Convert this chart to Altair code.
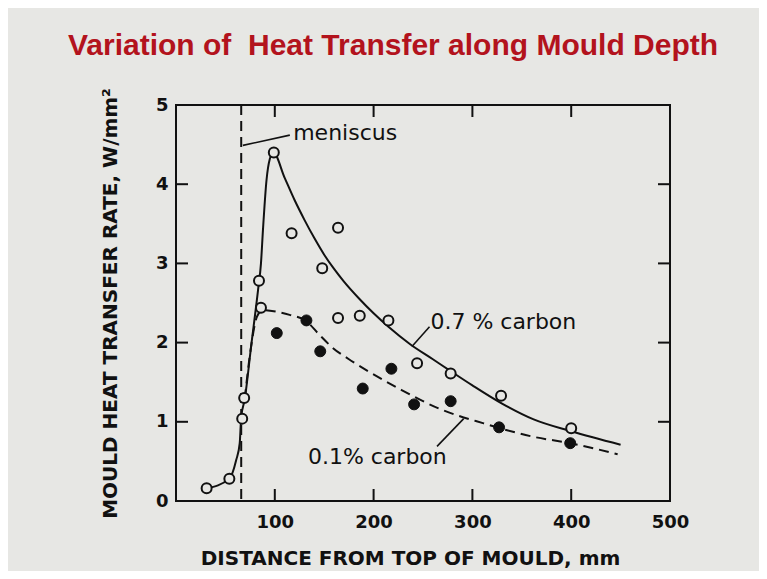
import altair as alt
import pandas as pd

# ---------------- data ----------------
# measured points, 0.7 % carbon (open circles)
open_x = [31, 54, 67, 69, 84, 86, 99, 117, 148, 164, 164, 186, 215, 244, 278, 329, 400]
open_y = [0.16, 0.28, 1.04, 1.30, 2.78, 2.44, 4.40, 3.38, 2.94, 3.45, 2.31, 2.34, 2.28, 1.74, 1.61, 1.33, 0.92]

# measured points, 0.1 % carbon (filled circles)
fill_x = [102, 132, 146, 189, 218, 241, 278, 327, 399]
fill_y = [2.12, 2.28, 1.89, 1.42, 1.67, 1.22, 1.26, 0.93, 0.73]

# fitted curve, 0.7 % carbon (solid)
curve07_x = [31, 54, 61, 64.5, 66, 69.5, 76, 83, 86, 88, 91.6, 95, 98.5, 110, 120, 130, 140, 150, 160, 170, 185, 200, 215, 237, 260, 278, 300, 330, 362, 400, 450]
curve07_y = [0.16, 0.28, 0.52, 0.73, 1.06, 1.28, 1.95, 2.66, 3.0, 3.42, 4.05, 4.32, 4.40, 4.08, 3.80, 3.55, 3.32, 3.11, 2.93, 2.77, 2.56, 2.37, 2.20, 1.98, 1.79, 1.64, 1.46, 1.23, 1.03, 0.88, 0.71]

# fitted curve, 0.1 % carbon (dashed)
curve01_x = [69.5, 76, 82, 88, 101.7, 115, 132, 145, 159, 175, 193, 227, 267.5, 311.5, 362, 399, 447]
curve01_y = [1.28, 1.95, 2.33, 2.41, 2.39, 2.35, 2.27, 2.10, 1.93, 1.79, 1.65, 1.41, 1.16, 0.98, 0.81, 0.73, 0.59]

meniscus_x = [66]

x_tick_values = [100, 200, 300, 400]
y_tick_values = [1, 2, 3, 4]
x_label_values = [100, 200, 300, 400, 500]
y_label_values = [0, 1, 2, 3, 4, 5]

TITLE = "Variation of\u00a0 Heat Transfer along Mould Depth"
X_TITLE = "DISTANCE FROM TOP OF MOULD, mm"
Y_TITLE = "MOULD HEAT TRANSFER RATE, W/mm\u00b2"

# ---------------- styling ----------------
BG = "#e7e7e4"
INK = "#111111"
W, H = 494, 396
TICK = 12
ANN_FONT = "DejaVu Sans"

xs = alt.Scale(domain=[0, 500], nice=False, zero=False)
ys = alt.Scale(domain=[0, 5], nice=False, zero=False)


def X(field="x"):
    return alt.X(f"{field}:Q", scale=xs, title=X_TITLE,
                 axis=alt.Axis(values=x_label_values, format="d", ticks=False, domain=False, grid=False,
                               labelFont="DejaVu Sans", labelFontSize=18, labelFontWeight="bold",
                               labelColor=INK, labelPadding=12, labelFlush=False,
                               titleFont="DejaVu Sans", titleFontSize=20, titleFontWeight="bold",
                               titleColor=INK, titlePadding=17, titleX=234))


def Y(field="y"):
    return alt.Y(f"{field}:Q", scale=ys, title=Y_TITLE,
                 axis=alt.Axis(values=y_label_values, format="d", ticks=False, domain=False, grid=False,
                               labelFont="DejaVu Sans", labelFontSize=18, labelFontWeight="bold",
                               labelColor=INK, labelPadding=8, labelFlush=False,
                               titleFont="DejaVu Sans", titleFontSize=20, titleFontWeight="bold",
                               titleColor=INK, titlePadding=35))


df_open = pd.DataFrame({"x": open_x, "y": open_y})
df_fill = pd.DataFrame({"x": fill_x, "y": fill_y})
df_c07 = pd.DataFrame({"x": curve07_x, "y": curve07_y})
df_c01 = pd.DataFrame({"x": curve01_x, "y": curve01_y})
df_men = pd.DataFrame({"x": meniscus_x})
df_xt = pd.DataFrame({"x": x_tick_values})
df_yt = pd.DataFrame({"y": y_tick_values})

meniscus = alt.Chart(df_men).mark_rule(color=INK, strokeWidth=2, strokeDash=[10, 6]).encode(
    x=X(), y=alt.value(0), y2=alt.value(H))

line07 = alt.Chart(df_c07).mark_line(color=INK, strokeWidth=2, interpolate="monotone").encode(
    x=X(), y=Y())
line01 = alt.Chart(df_c01).mark_line(color=INK, strokeWidth=2, strokeDash=[10, 6],
                                     interpolate="monotone").encode(x=X(), y=Y())

pts_open = alt.Chart(df_open).mark_point(shape="circle", size=100, fill=BG, stroke=INK,
                                         strokeWidth=2, opacity=1, filled=True).encode(x=X(), y=Y())
pts_fill = alt.Chart(df_fill).mark_point(shape="circle", size=120, fill=INK, stroke=INK,
                                         strokeWidth=1, opacity=1, filled=True).encode(x=X(), y=Y())

# inward ticks on all four sides
tk_bottom = alt.Chart(df_xt).mark_rule(color=INK, strokeWidth=2).encode(
    x=X(), y=alt.value(H), y2=alt.value(H - TICK))
tk_top = alt.Chart(df_xt).mark_rule(color=INK, strokeWidth=2).encode(
    x=X(), y=alt.value(0), y2=alt.value(TICK))
tk_left = alt.Chart(df_yt).mark_rule(color=INK, strokeWidth=2).encode(
    y=Y(), x=alt.value(0), x2=alt.value(TICK))
tk_right = alt.Chart(df_yt).mark_rule(color=INK, strokeWidth=2).encode(
    y=Y(), x=alt.value(W), x2=alt.value(W - TICK))

base = alt.Chart(df_men)


def leader(x1, y1, x2, y2):
    return base.mark_rule(color=INK, strokeWidth=1.6).encode(
        x=alt.datum(x1, scale=xs), y=alt.datum(y1, scale=ys),
        x2=alt.datum(x2), y2=alt.datum(y2))


def label(txt, x, y):
    return base.mark_text(text=txt, align="left", baseline="middle", font=ANN_FONT,
                          fontSize=22, color=INK).encode(
        x=alt.datum(x, scale=xs), y=alt.datum(y, scale=ys))


annots = [
    leader(67.7, 4.49, 115.2, 4.62), label("meniscus", 118.6, 4.65),
    leader(238.8, 1.95, 256.6, 2.20), label("0.7 % carbon", 257.5, 2.26),
    leader(264.2, 0.69, 291.2, 1.04), label("0.1% carbon", 133.5, 0.56),
]

chart = alt.layer(
    meniscus, line07, line01, tk_bottom, tk_top, tk_left, tk_right,
    *annots, pts_open, pts_fill
).properties(
    width=W, height=H,
    padding={"left": 168, "top": 97, "right": 89, "bottom": 70},
    autosize=alt.AutoSizeParams(type="none"),
    background=BG,
    title=alt.TitleParams(TITLE, font="Liberation Sans", fontSize=30, fontWeight="bold",
                          color="#b3131d", anchor="middle", frame="group", dx=-30,
                          baseline="alphabetic", offset=3),
).configure_view(stroke=INK, strokeWidth=2)

chart.save("out.html", embed_options={"renderer": "svg", "actions": False})
